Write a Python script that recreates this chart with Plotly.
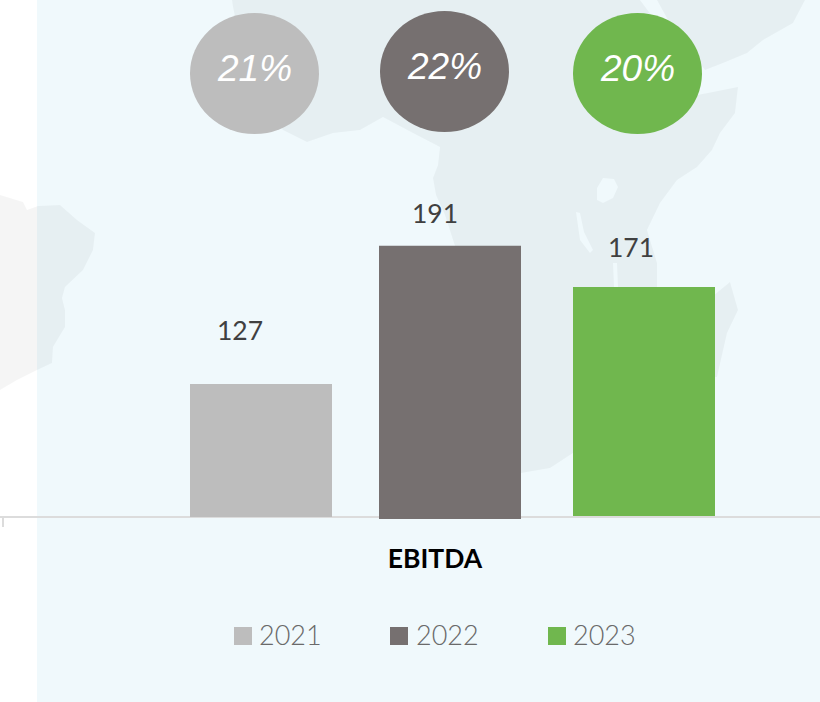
import plotly.graph_objects as go

# ---------- data ----------
category = ["EBITDA"]
years = ["2021", "2022", "2023"]
value_labels = ["127", "191", "171"]          # numbers printed above the bars
bar_heights = [93.0, 191.0, 160.1]            # bar heights as drawn in the picture (not proportional to the printed numbers)
bar_bases = [0.0, -1.4, 0.7]
margin_labels = ["21%", "22%", "20%"]

# ---------- style ----------
W, H = 820, 702
colors = ["#BDBDBD", "#767070", "#70B74E"]
BG = "#F0F9FC"
LAND = "rgba(0,0,0,0.04)"
AXIS = "#DCDCDC"

def px(x): return x / W
def py(y): return 1 - y / H

BASE_Y = 517
Y_SCALE = 1.43
CAT_CENTER = 435
CAT_SCALE = 864
bar_left = [190, 379, 573]
bar_width = 142

fig = go.Figure()
for i, yr in enumerate(years):
    fig.add_trace(go.Bar(
        x=category, y=[bar_heights[i]], base=[bar_bases[i]], name=yr,
        marker=dict(color=colors[i], line=dict(width=0)),
        width=bar_width / CAT_SCALE,
        offset=(bar_left[i] - CAT_CENTER) / CAT_SCALE,
        showlegend=False, hoverinfo="skip",
    ))

def path(points):
    return "M" + " L".join(f"{px(x):.5f},{py(y):.5f}" for x, y in points) + " Z"

def region(points, fill):
    return dict(type="path", path=path(points), xref="paper", yref="paper",
                fillcolor=fill, line=dict(width=0), layer="below")

africa = [(232,0),(233,7),(250,90),(283,130),(307,142),(333,133),(360,130),(383,117),(413,133),
          (440,147),(438,165),(433,178),(436,195),(445,215),(455,246),(470,350),(500,470),
          (521,473),(550,468),(573,453),(640,400),(657,287),(657,263),(647,230),(660,203),
          (677,180),(697,167),(712,150),(720,133),(735,113),(738,87),(713,92),(697,95),
          (670,40),(640,0)]
arabia = [(657,0),(668,20),(690,50),(705,70),(723,63),(747,53),(763,40),(793,23),(805,0)]
madagascar = [(730,282),(738,310),(727,333),(717,377),(708,377),(708,300)]
south_america = [(0,195),(23,202),(27,210),(38,206),(60,205),(77,220),(95,233),(93,250),(83,270),
                 (65,287),(62,298),(65,310),(65,327),(53,347),(52,363),(37,370),(17,380),(0,390)]
lake_victoria = [(603,178),(614,179),(618,187),(613,198),(603,203),(597,200),(597,188)]
lake_tanganyika = [(576,212),(580,213),(584,232),(593,250),(590,253),(580,240)]
lake_malawi = [(613,263),(617,263),(618,287),(614,287)]

shapes = [dict(type="rect", xref="paper", yref="paper", x0=px(37), x1=1, y0=0, y1=1,
               fillcolor=BG, line=dict(width=0), layer="below")]
for poly in (africa, arabia, madagascar, south_america):
    shapes.append(region(poly, LAND))
for poly in (lake_victoria, lake_tanganyika, lake_malawi):
    shapes.append(region(poly, BG))

# margin bubbles
bubble_x = [190, 380, 573]
bubble_y = [13, 11, 13]
for i in range(3):
    shapes.append(dict(type="circle", xref="paper", yref="paper",
                       x0=px(bubble_x[i]), x1=px(bubble_x[i] + 129),
                       y0=py(bubble_y[i] + 121), y1=py(bubble_y[i]),
                       fillcolor=colors[i], line=dict(width=0), layer="above"))

# legend swatches
swatch_x = [234, 390, 548]
for i in range(3):
    shapes.append(dict(type="rect", xref="paper", yref="paper",
                       x0=px(swatch_x[i]), x1=px(swatch_x[i] + 18),
                       y0=py(645), y1=py(627),
                       fillcolor=colors[i], line=dict(width=0), layer="above"))

def text(s, x, y, font):
    return dict(text=s, x=px(x), y=py(y), xref="paper", yref="paper", showarrow=False,
                xanchor="center", yanchor="middle", font=font)

annotations = []
value_pos = [(240, 330), (435, 213), (631, 247)]
margin_pos = [(254, 69), (444, 66), (637, 69)]
legend_pos = [(290, 634), (447, 634), (604, 634)]
for i in range(3):
    annotations.append(text(value_labels[i], *value_pos[i],
                            dict(family="Lato", size=26.5, color="#404040")))
    annotations.append(text(margin_labels[i], *margin_pos[i],
                            dict(family="Liberation Sans", size=37, color="white", style="italic")))
    annotations.append(text(years[i], *legend_pos[i],
                            dict(family="Lato", size=27, color="#6A6A6A", weight=300)))

fig.update_layout(
    width=W, height=H, margin=dict(l=0, r=0, t=0, b=0),
    paper_bgcolor="white", plot_bgcolor="rgba(0,0,0,0)",
    barmode="overlay", showlegend=False,
    shapes=shapes, annotations=annotations,
    xaxis=dict(
        type="category", domain=[0, 1],
        range=[(0 - CAT_CENTER) / CAT_SCALE, (W - CAT_CENTER) / CAT_SCALE],
        anchor="free", position=(H - BASE_Y) / H,
        showline=True, linecolor=AXIS, linewidth=2, layer="below traces",
        ticks="outside", tickson="boundaries", ticklen=9, tickcolor=AXIS, tickwidth=2,
        showgrid=False, ticklabelstandoff=18,
        tickfont=dict(family="Lato", size=26.5, color="black", weight=700),
    ),
    yaxis=dict(
        domain=[0, 1],
        range=[-(H - BASE_Y) / Y_SCALE, BASE_Y / Y_SCALE],
        visible=False, showgrid=False, zeroline=False,
    ),
)

fig.write_html("out.html", config={"displayModeBar": False},
               post_script="document.documentElement.style.overflow='hidden';document.body.style.margin='0';")
